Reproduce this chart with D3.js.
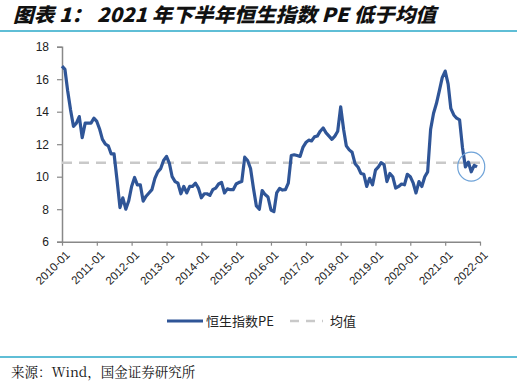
<!DOCTYPE html>
<html><head><meta charset="utf-8">
<script src="https://cdn.jsdelivr.net/npm/d3@7"></script>
<style>body{margin:0;background:#fff}svg{display:block}</style>
</head><body>
<svg id="c" width="517" height="391"></svg>
<script>
const startMonth = "2010-01";
const peValues = [
 16.8,16.6,15.3,14.1,13.1,13.3,13.7,12.4,13.3,13.3,13.3,13.6,
 13.4,12.9,12.3,12.0,11.9,11.4,11.4,9.8,8.1,8.7,8.0,8.5,
 9.4,9.95,9.5,9.5,8.5,8.8,9.0,9.2,9.9,10.3,10.5,11.0,
 11.25,10.8,10.0,9.7,9.6,8.95,9.4,9.0,9.4,9.4,9.6,9.3,
 8.7,8.95,8.95,8.85,9.2,9.3,9.55,9.65,9.0,9.25,9.2,9.2,
 9.55,9.65,9.7,11.2,11.0,10.5,9.3,8.2,8.0,9.15,8.9,8.75,
 7.95,7.85,9.0,9.28,9.18,9.2,9.6,11.3,11.35,11.3,11.25,11.8,
 12.1,12.25,12.2,12.45,12.5,12.8,13.0,12.7,12.5,12.3,12.5,12.8,
 14.3,12.9,11.9,11.65,11.5,10.8,10.6,10.2,10.15,9.4,9.9,9.5,
 10.4,10.6,10.86,10.75,9.7,10.2,10.0,9.3,9.4,9.55,9.5,10.15,
 10.0,9.6,9.0,9.7,9.4,10.0,10.3,12.9,13.9,14.5,15.3,16.1,
 16.5,15.7,14.2,13.8,13.6,13.5,11.8,10.6,10.9,10.3,10.7,10.6
];
const meanValue = 10.86;
const yTicks = [6,8,10,12,14,16,18];
const xTickLabels = ["2010-01","2011-01","2012-01","2013-01","2014-01","2015-01","2016-01","2017-01","2018-01","2019-01","2020-01","2021-01","2022-01"];
const seriesNames = ["恒生指数PE","均值"];

const svg = d3.select("#c");
const L = 62, R = 480, T = 46.7, B = 241.7;
const parse = d3.timeParse("%Y-%m");
const t0 = parse(startMonth);
const dates = peValues.map((v,i)=>d3.timeMonth.offset(t0,i));
const x = d3.scaleTime().domain([parse(xTickLabels[0]), parse(xTickLabels[xTickLabels.length-1])]).range([L,R]);
const y = d3.scaleLinear().domain([6,18]).range([B,T]);

// title
svg.append("text").attr("x",13).attr("y",21.5).attr("font-family","Noto Sans CJK SC, sans-serif")
  .attr("font-weight","900").attr("font-style","italic").attr("font-size",19.5).attr("fill","#111")
  .attr("textLength",423).attr("lengthAdjust","spacingAndGlyphs")
  .text("图表 1： 2021 年下半年恒生指数 PE 低于均值");
svg.append("line").attr("x1",0).attr("x2",517).attr("y1",31).attr("y2",31).attr("stroke","#2aa8c9").attr("stroke-width",1.5);
svg.append("line").attr("x1",0).attr("x2",517).attr("y1",357).attr("y2",357).attr("stroke","#2aa8c9").attr("stroke-width",1.5);
svg.append("text").attr("x",11).attr("y",377).attr("font-family","Noto Serif CJK SC, serif")
  .attr("font-size",13.5).attr("fill","#111").text("来源：Wind，国金证券研究所");

// axes
const yAxis = svg.append("g").attr("transform",`translate(${L},0)`)
  .call(d3.axisLeft(y).tickValues(yTicks).tickSize(5).tickPadding(8).tickFormat(d3.format("d")));
yAxis.select(".domain").attr("stroke","#888").attr("stroke-width",1.5);
yAxis.selectAll(".tick line").attr("stroke","#888").attr("stroke-width",1.2);
yAxis.selectAll("text").attr("font-family","Liberation Sans, Arial, sans-serif").attr("font-size",12).attr("fill","#222");

const xAxis = svg.append("g").attr("transform",`translate(0,${B})`)
  .call(d3.axisBottom(x).tickValues(xTickLabels.map(parse)).tickSize(4).tickSizeOuter(0).tickFormat(d3.timeFormat("%Y-%m")));
xAxis.select(".domain").attr("stroke","#888").attr("stroke-width",1.5);
xAxis.selectAll(".tick line").attr("stroke","#888").attr("stroke-width",1.2);
xAxis.selectAll("text").attr("font-family","Liberation Sans, Arial, sans-serif").attr("font-size",11.5).attr("fill","#222")
  .attr("text-anchor","end").attr("dy",0).attr("dx",0)
  .attr("transform","translate(3,9) rotate(-45)");

// mean line
svg.append("line").attr("x1",L).attr("x2",R).attr("y1",y(meanValue)).attr("y2",y(meanValue))
  .attr("stroke","#c9c9c9").attr("stroke-width",2.5).attr("stroke-dasharray","10,7");

// PE line
const line = d3.line().x((d,i)=>x(dates[i])).y(d=>y(d));
svg.append("path").datum(peValues).attr("d",line).attr("fill","none")
  .attr("stroke","#2f5597").attr("stroke-width",3.2).attr("stroke-linejoin","round");

// highlight circle on last points
const lastN = 5;
const cx = d3.mean(dates.slice(-lastN),d=>x(d)), cy = d3.mean(peValues.slice(-lastN),d=>y(d));
svg.append("ellipse").attr("cx",cx).attr("cy",cy).attr("rx",13.5).attr("ry",14.5)
  .attr("fill","none").attr("stroke","#6fa3d8").attr("stroke-width",1.2);

// legend
const lg = svg.append("g");
lg.append("line").attr("x1",167).attr("x2",203).attr("y1",321).attr("y2",321).attr("stroke","#2f5597").attr("stroke-width",3);
lg.append("text").attr("x",206).attr("y",326).attr("font-family","Noto Sans CJK SC, sans-serif").attr("font-size",13).attr("fill","#222").text(seriesNames[0]);
lg.append("line").attr("x1",290).attr("x2",323).attr("y1",321).attr("y2",321).attr("stroke","#c9c9c9").attr("stroke-width",2.5).attr("stroke-dasharray","9,7");
lg.append("text").attr("x",330).attr("y",326).attr("font-family","Noto Sans CJK SC, sans-serif").attr("font-size",13).attr("fill","#222").text(seriesNames[1]);
</script>
</body></html>
